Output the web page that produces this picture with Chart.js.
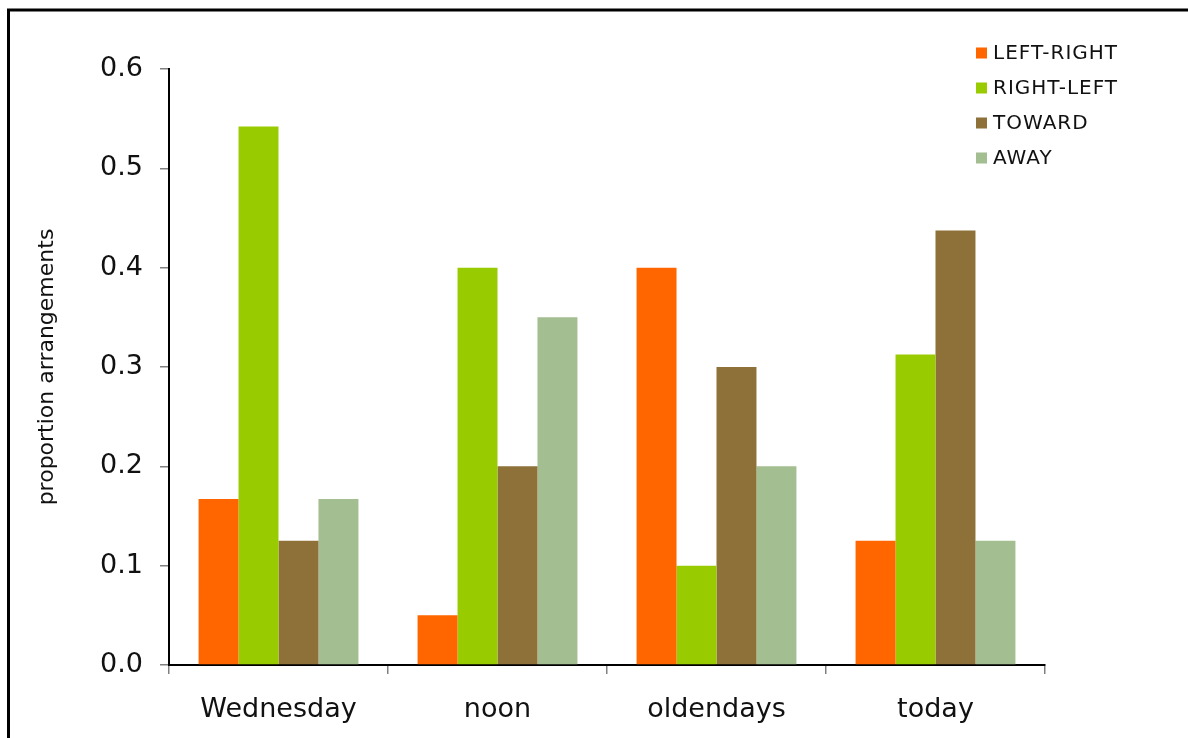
<!DOCTYPE html>
<html>
<head>
<meta charset="utf-8">
<script src="https://cdn.jsdelivr.net/npm/chart.js@4/dist/chart.umd.min.js"></script>
<style>
  html, body { margin: 0; padding: 0; background: #fff; }
  #wrap { width: 1188px; height: 738px; position: relative; }
</style>
</head>
<body>
<div id="wrap"><canvas id="c" width="1188" height="738"></canvas></div>
<script>
// Proportion of arrangements per condition
const categories = ['Wednesday', 'noon', 'oldendays', 'today'];
const seriesNames = ['LEFT-RIGHT', 'RIGHT-LEFT', 'TOWARD', 'AWAY'];
const leftRight = [0.167, 0.05, 0.4, 0.125];
const rightLeft = [0.542, 0.4, 0.1, 0.3125];
const toward    = [0.125, 0.2, 0.3, 0.4375];
const away      = [0.167, 0.35, 0.2, 0.125];
const yTicks = [0.0, 0.1, 0.2, 0.3, 0.4, 0.5, 0.6];

const colors = ['#FF6600', '#99CC00', '#8E7039', '#A3BE90'];
const seriesValues = [leftRight, rightLeft, toward, away];

const FONT = "'DejaVu Sans', Verdana, sans-serif";

// Outer frame (left and top edges)
const framePlugin = {
  id: 'frame',
  beforeDraw(chart) {
    const ctx = chart.ctx;
    ctx.save();
    ctx.fillStyle = '#fff';
    ctx.fillRect(0, 0, chart.width, chart.height);
    ctx.strokeStyle = '#000';
    ctx.lineWidth = 3;
    ctx.beginPath();
    ctx.moveTo(8.5, chart.height + 5);
    ctx.lineTo(8.5, 10);
    ctx.lineTo(chart.width + 5, 10);
    ctx.stroke();
    ctx.restore();
  }
};

// Legend in the upper right, drawn from the dataset labels and colours
const legendPlugin = {
  id: 'cornerLegend',
  afterDraw(chart) {
    const ctx = chart.ctx;
    ctx.save();
    ctx.font = '20px ' + FONT;
    if ('letterSpacing' in ctx) ctx.letterSpacing = '1px';
    ctx.textBaseline = 'middle';
    ctx.textAlign = 'left';
    chart.data.datasets.forEach((ds, i) => {
      const cy = 53 + i * 35;
      ctx.fillStyle = ds.backgroundColor;
      ctx.fillRect(976, cy - 5.5, 11, 11);
      ctx.fillStyle = '#111';
      ctx.fillText(ds.label, 993, cy + 1);
    });
    ctx.restore();
  }
};

new Chart(document.getElementById('c'), {
  type: 'bar',
  data: {
    labels: categories,
    datasets: seriesNames.map((name, i) => ({
      label: name,
      data: seriesValues[i],
      backgroundColor: colors[i],
      borderWidth: 0,
      barPercentage: 1.0,
      categoryPercentage: 0.73
    }))
  },
  options: {
    responsive: false,
    animation: false,
    devicePixelRatio: 1,
    layout: { padding: { left: 34, right: 143, top: 69, bottom: 0 } },
    plugins: {
      legend: { display: false },
      tooltip: { enabled: false }
    },
    scales: {
      x: {
        offset: true,
        border: { color: '#000', width: 2 },
        grid: {
          offset: true,
          drawOnChartArea: false,
          drawTicks: true,
          tickLength: 9,
          color: '#808080',
          lineWidth: 1.5
        },
        ticks: {
          color: '#111',
          font: { family: FONT, size: 27 },
          padding: 20
        },
        afterFit(scale) { scale.height = 73; }
      },
      y: {
        min: 0,
        max: 0.6,
        border: { color: '#000', width: 2 },
        grid: {
          drawOnChartArea: false,
          drawTicks: true,
          tickLength: 9,
          color: '#808080',
          lineWidth: 1.5
        },
        afterBuildTicks(scale) {
          scale.ticks = yTicks.map(v => ({ value: v }));
        },
        ticks: {
          color: '#111',
          font: { family: FONT, size: 27 },
          padding: 17,
          callback: v => Number(v).toFixed(1)
        },
        title: {
          display: true,
          text: 'proportion arrangements',
          color: '#111',
          font: { family: FONT, size: 22 },
          padding: { top: 0, bottom: 0 }
        },
        afterFit(scale) { scale.width = 135; }
      }
    }
  },
  plugins: [framePlugin, legendPlugin]
});
</script>
</body>
</html>
